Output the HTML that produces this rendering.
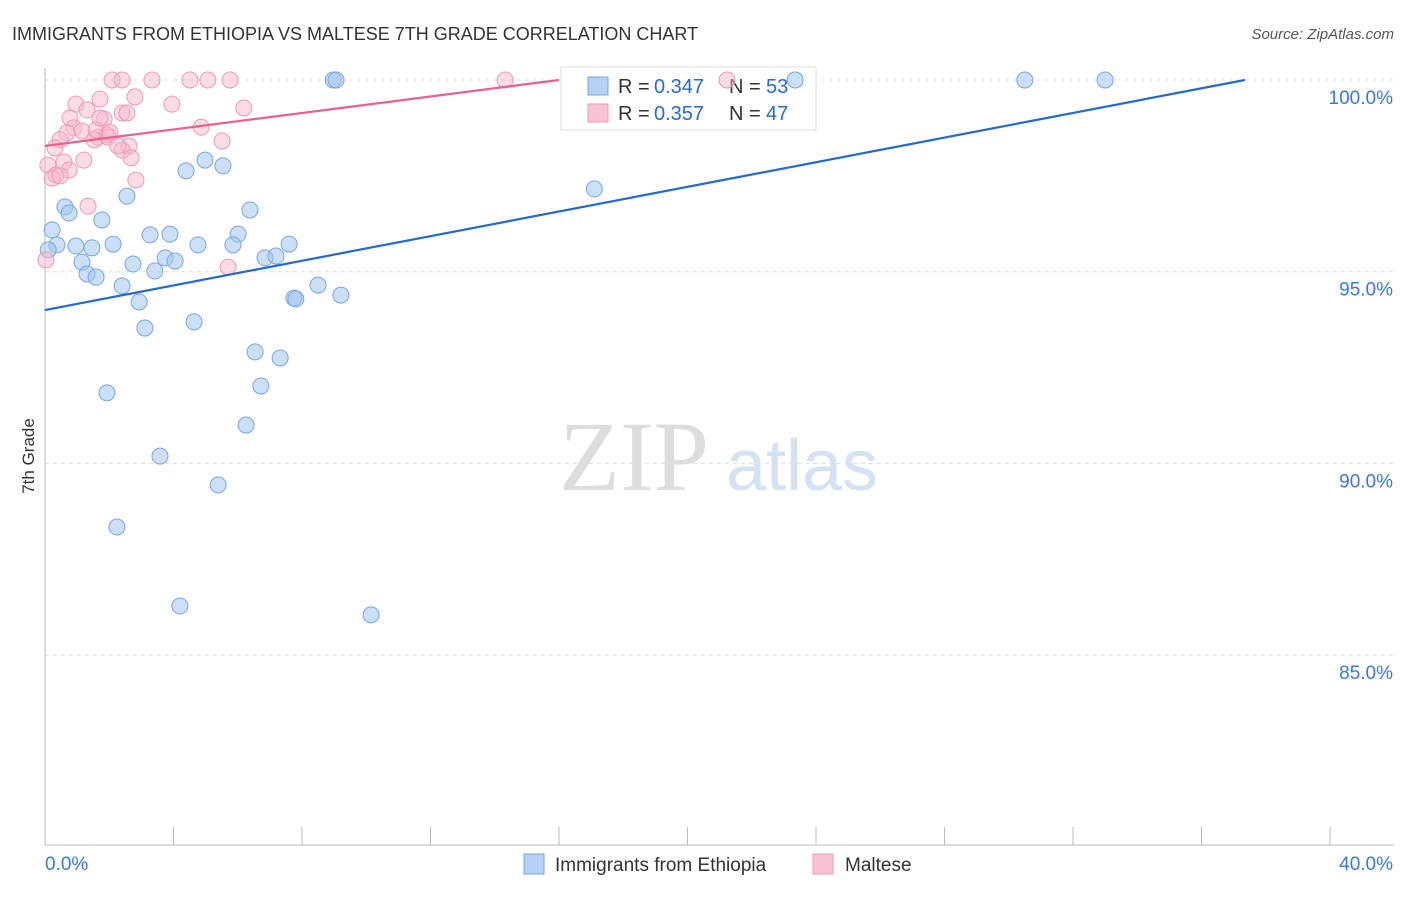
<!DOCTYPE html>
<html><head><meta charset="utf-8"><style>
body{margin:0;background:#fff;font-family:"Liberation Sans",sans-serif;}
</style></head><body>
<svg id="c" width="1406" height="892" font-family="Liberation Sans, sans-serif">
<text x="12" y="40" font-size="18" fill="#333">IMMIGRANTS FROM ETHIOPIA VS MALTESE 7TH GRADE CORRELATION CHART</text>
<text x="1394" y="39" font-size="15" fill="#555" font-style="italic" text-anchor="end">Source: ZipAtlas.com</text>
<text x="34" y="456" font-size="17" fill="#333" text-anchor="middle" transform="rotate(-90 34 456)">7th Grade</text>
<g><text x="634" y="490" font-size="100" fill="#ddd" style="font-family:'Liberation Serif',serif" text-anchor="middle">ZIP</text><text x="802" y="490" font-size="72" fill="#d4e2f4" text-anchor="middle">atlas</text></g>
<g id="grid"></g><g id="axes"></g>
<g>
<rect x="561" y="67" width="255" height="63" fill="#fff" stroke="#ddd"/>
<rect x="588" y="77" width="20" height="18" fill="#b6d0f3" stroke="#7aa7e0"/>
<rect x="588" y="104" width="20" height="18" fill="#f8c4d5" stroke="#eb9ab5"/>
<text x="618" y="93" font-size="20" fill="#333">R = </text><text x="654" y="93" font-size="20" fill="#2a6ad0">0.347</text>
<text x="729" y="93" font-size="20" fill="#333">N = </text><text x="766" y="93" font-size="20" fill="#2a6ad0">53</text>
<text x="618" y="120" font-size="20" fill="#333">R = </text><text x="654" y="120" font-size="20" fill="#2a6ad0">0.357</text>
<text x="729" y="120" font-size="20" fill="#333">N = </text><text x="766" y="120" font-size="20" fill="#2a6ad0">47</text>
</g>
<g id="pts"></g><g id="lines"></g>
<g>
<rect x="524" y="854" width="20" height="20" fill="#b6d0f3" stroke="#7aa7e0"/>
<text x="555" y="871" font-size="19" fill="#333">Immigrants from Ethiopia</text>
<rect x="813" y="854" width="20" height="20" fill="#f8c4d5" stroke="#eb9ab5"/>
<text x="845" y="871" font-size="19" fill="#333">Maltese</text>
</g>
</svg>
<script>
const xTicks=[0,4,8,12,16,20,24,28,32,36,40];
const yTicks=[85,90,95,100];
const yTickLabels=["85.0%","90.0%","95.0%","100.0%"];
const blueX=[8.97,9.06,23.35,30.5,33.0,17.1,4.98,4.39,5.54,2.55,0.62,0.75,1.77,6.38,0.22,3.27,3.89,6.01,0.37,0.96,1.46,2.12,4.76,5.85,7.6,1.15,2.74,3.74,4.05,6.85,7.19,3.42,1.31,1.59,2.4,8.5,7.75,7.81,9.21,2.93,4.64,3.11,6.54,7.32,6.72,1.93,6.26,3.58,5.39,2.24,4.2,10.15,0.1];
const blueY=[100,100,100,100,100,97.16,97.91,97.63,97.76,96.97,96.69,96.53,96.35,96.61,96.09,95.96,95.98,95.98,95.7,95.67,95.62,95.72,95.7,95.7,95.72,95.25,95.2,95.36,95.28,95.36,95.41,95.02,94.94,94.86,94.63,94.65,94.31,94.29,94.39,94.21,93.69,93.53,92.91,92.75,92.02,91.84,91.0,90.19,89.44,88.34,86.28,86.05,95.57];
const pinkX=[2.09,2.4,3.33,4.51,5.07,5.76,14.32,21.23,2.8,3.95,0.96,1.71,1.31,6.19,2.4,2.55,0.78,1.84,4.86,0.9,1.15,0.68,0.47,1.65,1.93,1.53,1.96,5.51,0.31,2.61,2.4,2.27,1.21,2.68,0.59,0.75,0.09,0.34,0.22,0.47,2.83,1.34,5.7,0.03,1.59,2.02,1.71];
const pinkY=[100,100,100,100,100,100,100,100,99.56,99.37,99.37,99.5,99.22,99.27,99.14,99.14,99.01,98.98,98.77,98.75,98.67,98.62,98.44,98.51,98.57,98.44,98.51,98.41,98.23,98.28,98.17,98.28,97.91,97.97,97.86,97.65,97.78,97.52,97.44,97.5,97.39,96.71,95.12,95.31,98.7,98.64,99.01];
const blueLine=[0,94.0,37.35,100];
const pinkLine=[0,98.28,16.0,100];
const X=v=>45+v*32.125, Y=v=>80+(100-v)*38.34;
const NS="http://www.w3.org/2000/svg";
function mk(t,a,p){const e=document.createElementNS(NS,t);for(const k in a)e.setAttribute(k,a[k]);document.getElementById(p).appendChild(e);return e;}
yTicks.forEach((t,i)=>{
 const l=mk('line',{x1:45,x2:1394,y1:Y(t),y2:Y(t),stroke:'#ddd','stroke-dasharray':'4,4'},'grid');
 
 
 const tx=mk('text',{x:1393,y:Y(t)+24,'font-size':19,fill:'#3b78d8','text-anchor':'end'},'axes');tx.textContent=yTickLabels[i];
 
 
});
mk('line',{x1:45,x2:45,y1:68,y2:845,stroke:'#bbb'},'axes');
mk('line',{x1:45,x2:1394,y1:845,y2:845,stroke:'#bbb'},'axes');
xTicks.forEach(t=>{const l=mk('line',{x1:X(t),x2:X(t),y1:827,y2:845,stroke:'#bbb'},'axes');
 
 });
let a=mk('text',{x:45,y:870,'font-size':19,fill:'#3b78d8'},'axes');a.textContent='0.0%';


a=mk('text',{x:1393,y:870,'font-size':19,fill:'#3b78d8','text-anchor':'end'},'axes');a.textContent='40.0%';


blueX.forEach((v,i)=>{const c=mk('circle',{cx:X(v),cy:Y(blueY[i]),r:8,fill:'rgba(160,196,240,0.55)',stroke:'#79a6e2','stroke-width':1},'pts');
 
 });
pinkX.forEach((v,i)=>{const c=mk('circle',{cx:X(v),cy:Y(pinkY[i]),r:8,fill:'rgba(246,184,206,0.5)',stroke:'#eb9ab5','stroke-width':1},'pts');
 
 });
let ln=mk('line',{x1:X(blueLine[0]),y1:Y(blueLine[1]),x2:X(blueLine[2]),y2:Y(blueLine[3]),stroke:'#2468d0','stroke-width':2.2},'lines');


ln=mk('line',{x1:X(pinkLine[0]),y1:Y(pinkLine[1]),x2:X(pinkLine[2]),y2:Y(pinkLine[3]),stroke:'#e8608e','stroke-width':2.2},'lines');


</script>
</body></html>
